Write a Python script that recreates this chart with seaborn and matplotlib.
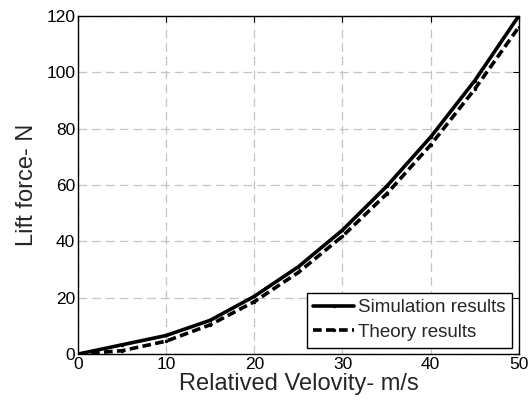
import matplotlib.pyplot as plt
import pandas as pd
import seaborn as sns

velocity = [0, 5, 10, 15, 20, 25, 30, 35, 40, 45, 50]
simulation = [0, 3.3, 6.6, 12.0, 20.5, 31.0, 44.0, 59.5, 77.0, 97.0, 120.0]
theory = [0, 1.2, 4.6, 10.4, 18.6, 29.0, 41.8, 56.8, 74.2, 94.0, 116.0]
x_ticks = [0, 10, 20, 30, 40, 50]
y_ticks = [0, 20, 40, 60, 80, 100, 120]

sns.set_style("white")
plt.rcParams["font.family"] = ["Liberation Sans", "DejaVu Sans"]

frame = pd.DataFrame({
    "velocity": velocity * 2,
    "force": simulation + theory,
    "series": ["Simulation results"] * len(velocity) + ["Theory results"] * len(velocity),
})

fig = plt.figure(figsize=(5.31, 4.07), dpi=100)
ax = fig.add_axes([0.147, 0.130, 0.830, 0.831])

sns.lineplot(
    data=frame, x="velocity", y="force", style="series",
    dashes={"Simulation results": "", "Theory results": (2.4, 1.2)},
    color="black", linewidth=2.6, marker=".", markersize=5,
    markeredgewidth=0, ax=ax,
)

ax.set_xlim(0, 50)
ax.set_ylim(0, 120)
ax.set_xticks(x_ticks)
ax.set_yticks(y_ticks)
ax.grid(True, color="#c4c4c4", linestyle=(0, (7, 4)), linewidth=0.9)
ax.tick_params(direction="in", top=True, right=True, length=4, width=0.8,
               labelsize=12.5, colors="black", pad=2)
for spine in ax.spines.values():
    spine.set_color("black")
    spine.set_linewidth(1.0)

ax.set_xlabel("Relatived Velovity- m/s", fontsize=17, labelpad=1)
ax.set_ylabel("Lift force- N", fontsize=17, labelpad=6)

leg = ax.legend(loc="lower right", fontsize=13.5, frameon=True, fancybox=False,
                handlelength=2.2, handletextpad=0.2, borderaxespad=0.35,
                borderpad=0.35, labelspacing=0.4)
leg.get_frame().set_edgecolor("black")
leg.get_frame().set_linewidth(1.0)
leg.get_frame().set_alpha(1)

fig.savefig("out.png", dpi=100)
